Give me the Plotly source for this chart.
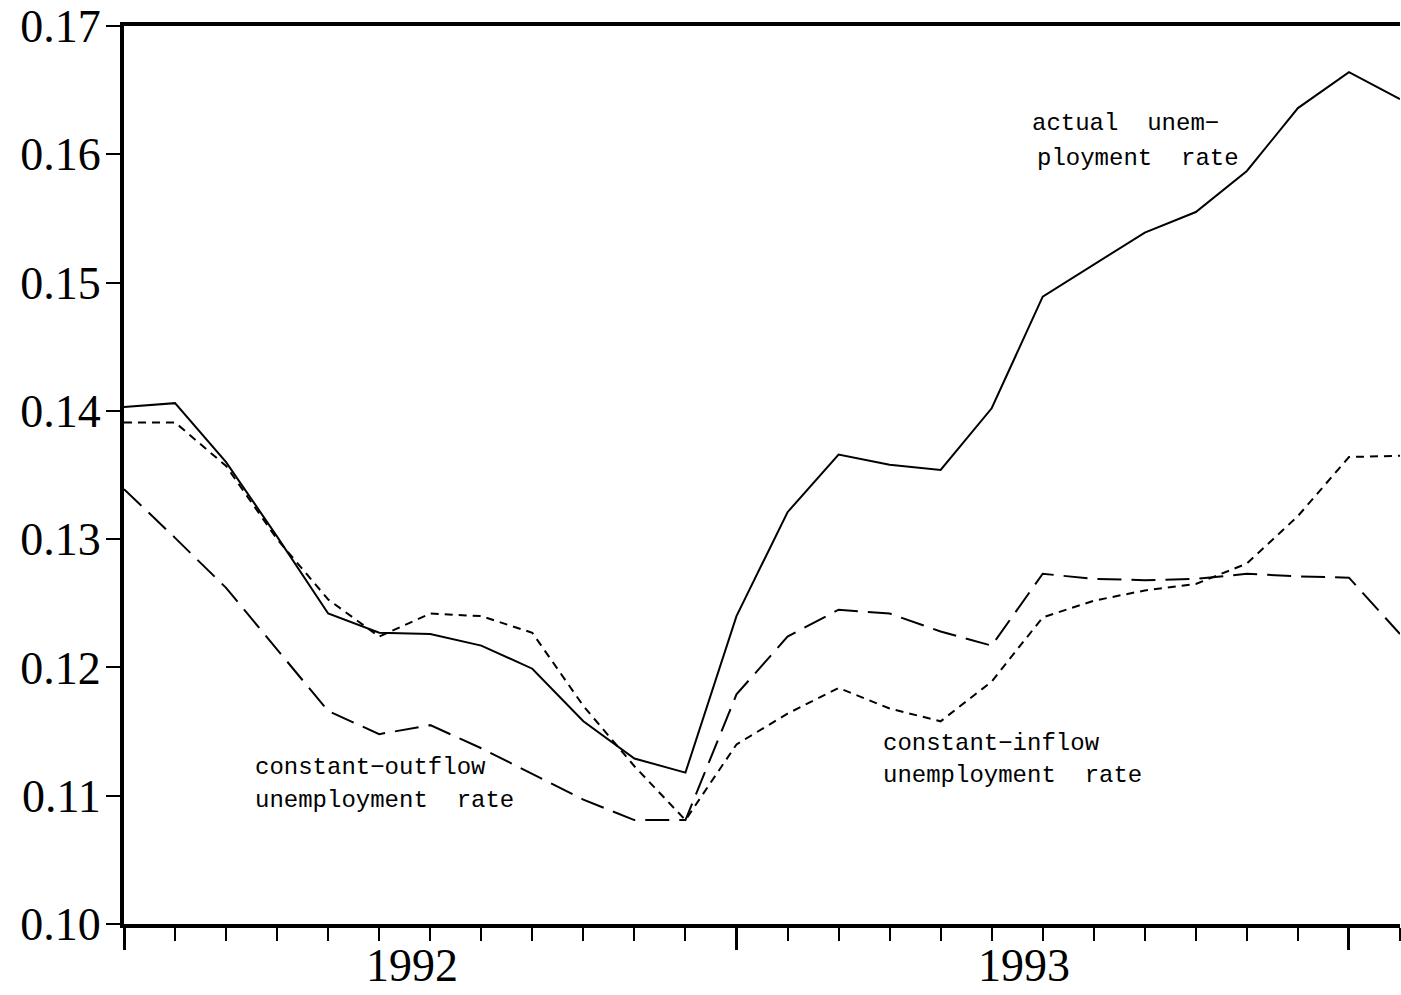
import plotly.graph_objects as go

# monthly observations, Jan-1992 .. Feb-1994 (index positions on the axis)
months = list(range(26))

actual = [0.1403, 0.1406, 0.1360, 0.1302, 0.1242, 0.1227, 0.1226, 0.1217, 0.1199, 0.1158,
          0.1129, 0.1118, 0.1240, 0.1321, 0.1366, 0.1358, 0.1354, 0.1402, 0.1489, 0.1514,
          0.1539, 0.1555, 0.1587, 0.1636, 0.1664, 0.1643]
const_inflow = [0.1391, 0.1391, 0.1357, 0.1300, 0.1253, 0.1224, 0.1242, 0.1240, 0.1227, 0.1170,
                0.1123, 0.1081, 0.1140, 0.1164, 0.1184, 0.1168, 0.1158, 0.1189, 0.1239, 0.1252,
                0.1260, 0.1265, 0.1281, 0.1318, 0.1364, 0.1365]
const_outflow = [0.1339, 0.1301, 0.1262, 0.1214, 0.1166, 0.1148, 0.1155, 0.1137, 0.1117, 0.1097,
                 0.1081, 0.1081, 0.1179, 0.1224, 0.1245, 0.1242, 0.1228, 0.1217, 0.1273, 0.1269,
                 0.1268, 0.1269, 0.1273, 0.1271, 0.1270, 0.1226]

y_ticks = [0.10, 0.11, 0.12, 0.13, 0.14, 0.15, 0.16, 0.17]
y_tick_text = ["0.10", "0.11", "0.12", "0.13", "0.14", "0.15", "0.16", "0.17"]
year_labels = ["1992", "1993"]
year_pos = [5.64, 17.63]

fig = go.Figure()
fig.add_trace(go.Scatter(x=months, y=actual, mode="lines",
                         line=dict(color="black", width=2), name="actual"))
fig.add_trace(go.Scatter(x=months, y=const_inflow, mode="lines",
                         line=dict(color="black", width=2, dash="8px,6px"), name="constant-inflow"))
fig.add_trace(go.Scatter(x=months, y=const_outflow, mode="lines",
                         line=dict(color="black", width=2, dash="24px,10px"), name="constant-outflow"))

label_font = dict(family="Liberation Mono", size=24, color="black")
ann = []
def add_label(x, y, text):
    ann.append(dict(x=x, y=y, xref="x", yref="y", text=text, showarrow=False,
                    xanchor="left", yanchor="middle", font=label_font))

add_label(17.76, 0.1624, "actual\u00a0\u00a0unem\u2212")
add_label(17.84, 0.1597, "ployment\u00a0\u00a0rate")
add_label(2.52, 0.1122, "constant\u2212outflow")
add_label(2.52, 0.1096, "unemployment\u00a0\u00a0rate")
add_label(14.84, 0.1141, "constant\u2212inflow")
add_label(14.84, 0.1116, "unemployment\u00a0\u00a0rate")

for t, p in zip(year_labels, year_pos):
    ann.append(dict(x=p, y=-0.0767, xref="x", yref="paper", text=t, showarrow=False,
                    xanchor="center", yanchor="bottom",
                    font=dict(family="Liberation Serif", size=46, color="black")))

fig.update_layout(
    width=1401, height=995,
    margin=dict(l=124, r=1, t=24, b=71),
    paper_bgcolor="white", plot_bgcolor="white",
    showlegend=False,
    annotations=ann,
)
fig.update_xaxes(range=[0, 25], showgrid=False, zeroline=False,
                 showline=True, linecolor="black", linewidth=4, mirror=True,
                 tickmode="linear", tick0=0, dtick=12, ticks="outside", ticklen=22,
                 tickwidth=2.5, tickcolor="black", showticklabels=False,
                 minor=dict(tick0=0, dtick=1, ticks="outside", ticklen=13,
                            tickwidth=2, tickcolor="black", showgrid=False))
fig.update_yaxes(range=[0.10, 0.17], showgrid=False, zeroline=False,
                 showline=True, linecolor="black", linewidth=4,
                 tickmode="array", tickvals=y_ticks, ticktext=y_tick_text,
                 ticks="outside", ticklen=14, tickwidth=1.5, tickcolor="black",
                 ticklabeloverflow="allow", ticklabelstandoff=-4,
                 tickfont=dict(family="Liberation Serif", size=46, color="black"))

fig.write_html("out.html", config={"displayModeBar": False},
               post_script="document.body.style.margin='0px';document.body.style.overflow='hidden';")
